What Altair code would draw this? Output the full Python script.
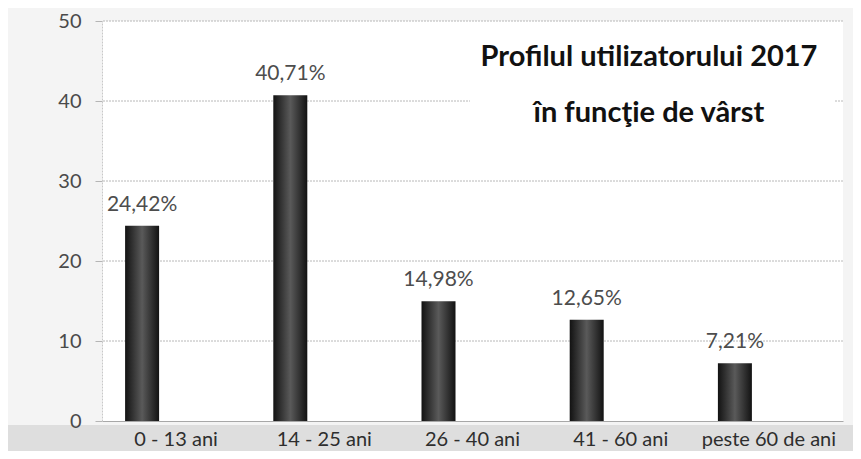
import altair as alt
import pandas as pd

categories = ["0 - 13 ani", "14 - 25 ani", "26 - 40 ani", "41 - 60 ani", "peste 60 de ani"]
values = [24.42, 40.71, 14.98, 12.65, 7.21]
labels = ["24,42%", "40,71%", "14,98%", "12,65%", "7,21%"]
y_ticks = [0, 10, 20, 30, 40, 50]
title_lines = ["Profilul utilizatorului 2017", "în funcţie de vârst"]

df = pd.DataFrame({"cat": categories, "val": values, "lab": labels})
gdf = pd.DataFrame({"g": y_ticks[1:]})

FONT = "Lato"
W, H = 741, 400

x_scale = alt.Scale(domain=categories, paddingInner=0, paddingOuter=0)
y_scale = alt.Scale(domain=[0, 50])

y_axis = alt.Axis(values=y_ticks, labelFontSize=20, grid=False,
                  labelColor="#4a4a4a", labelFont=FONT, labelPadding=14,
                  tickSize=7, tickColor="#b5b5b5", domainColor="#c8c8c8",
                  domainDash=[2, 1], zindex=2)

x_enc = alt.X("cat:N", sort=categories, title=None, scale=x_scale,
              axis=alt.Axis(labelAngle=0, labelFontSize=20, labelColor="#2e2e2e",
                            labelFont=FONT, labelPadding=8, ticks=False,
                            domainColor="#a8a8a8", zindex=2))
y_enc = alt.Y("val:Q", title=None, scale=y_scale, axis=y_axis)

base = alt.Chart(df)

bottom_strip = base.mark_rect(color="#dedede").encode(
    x=alt.value(-94), x2=alt.value(W + 10), y=alt.value(H + 4), y2=alt.value(H + 40)
)

grid = alt.Chart(gdf).mark_rule(color="#b8b8b8", strokeDash=[2, 1], strokeWidth=1).encode(
    y=alt.Y("g:Q", scale=y_scale, title=None, axis=y_axis)
)

title_box = base.mark_rect(color="white").encode(
    x=alt.value(368), x2=alt.value(733), y=alt.value(8), y2=alt.value(150)
)

bars = base.mark_bar(size=34, xOffset=-34, color=alt.Gradient(
    gradient="linear", x1=0, x2=1, y1=0, y2=0,
    stops=[alt.GradientStop(color="#121212", offset=0),
           alt.GradientStop(color="#5a5a5a", offset=0.5),
           alt.GradientStop(color="#121212", offset=1)])
).encode(x=x_enc, y=y_enc)

texts = base.mark_text(dx=-34, dy=-15, baseline="alphabetic", fontSize=21,
                       font=FONT, color="#4d4d4d").encode(
    x=alt.X("cat:N", sort=categories, scale=x_scale), y=alt.Y("val:Q", scale=y_scale),
    text="lab:N"
)

tdf = pd.DataFrame({"t": title_lines})
title1 = alt.Chart(tdf.iloc[[0]]).mark_text(fontSize=29, fontWeight="bold", font=FONT,
                                            color="#111111", baseline="alphabetic").encode(
    x=alt.value(547), y=alt.value(45), text="t:N")
title2 = alt.Chart(tdf.iloc[[1]]).mark_text(fontSize=29, fontWeight="bold", font=FONT,
                                            color="#111111", baseline="alphabetic").encode(
    x=alt.value(547), y=alt.value(101), text="t:N")

chart = alt.layer(bottom_strip, grid, title_box, bars, texts, title1, title2).properties(
    width=W, height=H,
    autosize=alt.AutoSizeParams(type="none"),
    padding={"left": 94, "top": 13, "right": 10, "bottom": 30},
    background="#f4f4f4",
).configure_view(fill="white", stroke=None)

chart.save("out.html", embed_options={"renderer": "svg", "actions": False})
